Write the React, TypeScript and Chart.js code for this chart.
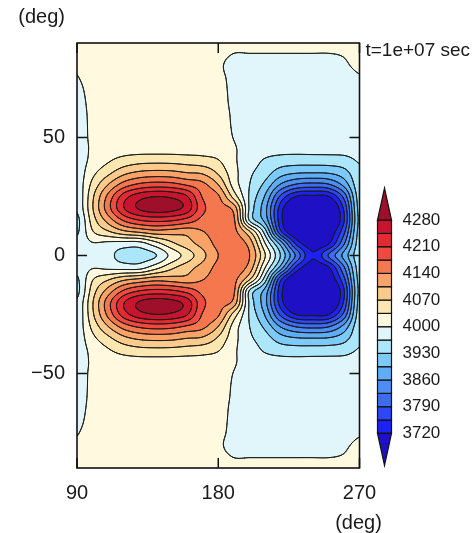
import React, { useEffect, useRef } from 'react';
import Chart from 'chart.js/auto';

// ---------------- data ----------------
const lonTicks = [90, 180, 270];
const latTicks = [-50, 0, 50];
const colorbarLabels = [3720, 3790, 3860, 3930, 4000, 4070, 4140, 4210, 4280];
const contourLevels = [3720, 3755, 3790, 3825, 3860, 3895, 3930, 3965, 4000, 4035, 4070, 4105, 4140, 4175, 4210, 4245, 4280];
const bandColors = [
  '#1e10c4', '#1c22f2', '#2c48f4', '#3c6cf2', '#4c8ef4', '#5eaef6', '#7ccafa', '#ace6fb', '#e0f6fb',
  '#fffadf', '#fde7b0', '#fccb8c', '#f9a366', '#f5774e', '#ef4a3e', '#e32a32', '#c9142e', '#a00f2a',
];
const timeLabel = 't=1e+07 sec';
const axisUnit = '(deg)';

// grid longitudes (columns) and northern latitudes (rows); field is symmetric about the equator
const gridLons = [90, 100, 110, 120, 130, 140, 150, 160, 170, 180, 190, 200, 210, 220, 230, 240, 250, 260, 270];
const gridLatsNorth = [90, 85, 80, 75, 70, 65, 60, 55, 50, 45, 40, 35, 30, 25, 20, 15, 10, 5, 0];

const lat90 = [4010, 4012, 4014, 4015, 4015, 4015, 4015, 4014, 4012, 4010, 4006, 4006, 4006, 4006, 4006, 4006, 4006, 4007, 4008];
const lat85 = [4006, 4012, 4015, 4015, 4015, 4015, 4015, 4015, 4014, 4007, 3999, 3999, 3999, 3999, 3999, 3999, 3999, 4001, 4006];
const lat80 = [4002, 4010, 4015, 4015, 4015, 4015, 4015, 4015, 4014, 4005, 3990, 3990, 3990, 3990, 3990, 3990, 3991, 3997, 4003];
const lat75 = [3999, 4009, 4015, 4015, 4015, 4015, 4015, 4015, 4014, 4008, 3992, 3988, 3988, 3988, 3988, 3988, 3989, 3992, 3998];
const lat70 = [3995, 4008, 4015, 4015, 4015, 4015, 4015, 4015, 4015, 4010, 3993, 3988, 3988, 3988, 3988, 3988, 3988, 3989, 3993];
const lat65 = [3992, 4007, 4015, 4015, 4015, 4015, 4015, 4015, 4015, 4011, 3994, 3988, 3988, 3988, 3988, 3988, 3988, 3988, 3990];
const lat60 = [3990, 4006, 4015, 4015, 4015, 4015, 4015, 4015, 4015, 4012, 3996, 3988, 3988, 3988, 3988, 3988, 3988, 3988, 3989];
const lat55 = [3988, 4006, 4015, 4016, 4016, 4016, 4016, 4016, 4015, 4013, 3997, 3988, 3988, 3988, 3988, 3988, 3988, 3988, 3988];
const lat50 = [3987, 4006, 4016, 4017, 4017, 4017, 4017, 4017, 4017, 4014, 3999, 3988, 3987, 3987, 3987, 3987, 3987, 3987, 3988];
const lat45 = [3986, 4005, 4018, 4021, 4022, 4022, 4022, 4021, 4022, 4018, 4003, 3987, 3980, 3977, 3976, 3977, 3977, 3978, 3982];
const lat40 = [3983, 4010, 4032, 4050, 4059, 4061, 4060, 4056, 4050, 4038, 4005, 3982, 3960, 3948, 3945, 3945, 3946, 3950, 3968];
const lat35 = [3980, 4026, 4062, 4096, 4113, 4118, 4116, 4106, 4100, 4065, 4012, 3972, 3945, 3910, 3897, 3895, 3897, 3915, 3958];
const lat30 = [3978, 4046, 4106, 4157, 4183, 4192, 4188, 4171, 4150, 4105, 4020, 3965, 3920, 3855, 3820, 3812, 3820, 3870, 3955];
const lat25 = [3973, 4064, 4151, 4228, 4266, 4279, 4274, 4248, 4172, 4145, 4055, 3960, 3890, 3780, 3718, 3712, 3718, 3800, 3950];
const lat20 = [3970, 4068, 4162, 4244, 4285, 4300, 4293, 4266, 4184, 4155, 4125, 3958, 3870, 3735, 3655, 3650, 3660, 3760, 3945];
const lat15 = [3955, 4053, 4121, 4181, 4211, 4221, 4216, 4197, 4165, 4158, 4145, 3960, 3880, 3730, 3650, 3635, 3650, 3750, 3940];
const lat10 = [3960, 4032, 4065, 4095, 4110, 4125, 4122, 4118, 4138, 4155, 4150, 4075, 3945, 3760, 3675, 3650, 3685, 3780, 3945];
const lat5 = [3978, 3997, 3990, 3984, 3985, 4020, 4060, 4090, 4118, 4150, 4160, 4125, 4000, 3880, 3745, 3695, 3715, 3820, 3950];
const lat0 = [3985, 3986, 3972, 3955, 3953, 3963, 4010, 4050, 4095, 4140, 4163, 4140, 4035, 3925, 3815, 3725, 3790, 3870, 3955];

const northRows = [lat90, lat85, lat80, lat75, lat70, lat65, lat60, lat55, lat50, lat45, lat40, lat35, lat30, lat25, lat20, lat15, lat10, lat5, lat0];

// full table in ascending latitude (-90 .. 90), mirrored about the equator
const fieldRows: number[][] = [...northRows.slice(0, northRows.length - 1), ...northRows.slice().reverse()];
const fieldLats: number[] = [...gridLatsNorth.slice(0, -1).map((v) => -v), ...gridLatsNorth.slice().reverse()];

// ---------------- helpers ----------------
function catmull(p0: number, p1: number, p2: number, p3: number, t: number) {
  return p1 + 0.5 * t * (p2 - p0 + t * (2 * p0 - 5 * p1 + 4 * p2 - p3 + t * (3 * (p1 - p2) + p3 - p0)));
}

function sampleField(lon: number, lat: number) {
  const nx = gridLons.length;
  const ny = fieldLats.length;
  const fx = (lon - gridLons[0]) / (gridLons[1] - gridLons[0]);
  const fy = (lat - fieldLats[0]) / (fieldLats[1] - fieldLats[0]);
  let ix = Math.floor(fx);
  let iy = Math.floor(fy);
  ix = Math.max(0, Math.min(nx - 2, ix));
  iy = Math.max(0, Math.min(ny - 2, iy));
  const tx = Math.max(0, Math.min(1, fx - ix));
  const ty = Math.max(0, Math.min(1, fy - iy));
  const g = (r: number, c: number) =>
    fieldRows[Math.max(0, Math.min(ny - 1, r))][Math.max(0, Math.min(nx - 1, c))];
  const col: number[] = [];
  for (let k = -1; k <= 2; k++) {
    const r = iy + k;
    col.push(catmull(g(r, ix - 1), g(r, ix), g(r, ix + 1), g(r, ix + 2), tx));
  }
  return catmull(col[0], col[1], col[2], col[3], ty);
}

function bandIndex(v: number) {
  let k = 0;
  while (k < contourLevels.length && v >= contourLevels[k]) k++;
  return k;
}

function hexToRgb(h: string) {
  const n = parseInt(h.slice(1), 16);
  return [(n >> 16) & 255, (n >> 8) & 255, n & 255];
}

const FONT = '"Liberation Sans", Arial, Helvetica, sans-serif';

// ---------------- plugins ----------------
const fieldPlugin = {
  id: 'fieldPlugin',
  beforeDatasetsDraw(chart: any) {
    const { ctx, chartArea: ca } = chart;
    const xs = chart.scales.x;
    const ys = chart.scales.y;
    const L = Math.round(ca.left);
    const T = Math.round(ca.top);
    const W = Math.round(ca.right) - L;
    const H = Math.round(ca.bottom) - T;
    const NW = W + 1;
    const F = new Float64Array(NW * (H + 1));
    const lonAt: number[] = [];
    for (let i = 0; i <= W; i++) lonAt.push(xs.getValueForPixel(L + i));
    for (let j = 0; j <= H; j++) {
      const lat = ys.getValueForPixel(T + j);
      for (let i = 0; i <= W; i++) F[j * NW + i] = sampleField(lonAt[i], lat);
    }
    const rgb = bandColors.map(hexToRgb);
    const off = document.createElement('canvas');
    off.width = W;
    off.height = H;
    const octx = off.getContext('2d')!;
    const img = octx.createImageData(W, H);
    for (let j = 0; j < H; j++) {
      for (let i = 0; i < W; i++) {
        const v = (F[j * NW + i] + F[j * NW + i + 1] + F[(j + 1) * NW + i] + F[(j + 1) * NW + i + 1]) / 4;
        const c = rgb[bandIndex(v)];
        const p = (j * W + i) * 4;
        img.data[p] = c[0];
        img.data[p + 1] = c[1];
        img.data[p + 2] = c[2];
        img.data[p + 3] = 255;
      }
    }
    octx.putImageData(img, 0, 0);
    ctx.save();
    ctx.drawImage(off, L, T);
    ctx.beginPath();
    ctx.rect(L, T, W, H);
    ctx.clip();
    ctx.strokeStyle = '#1b1b1b';
    ctx.lineWidth = 1;
    ctx.lineCap = 'round';
    ctx.lineJoin = 'round';
    for (const lv of contourLevels) {
      ctx.beginPath();
      for (let j = 0; j < H; j++) {
        for (let i = 0; i < W; i++) {
          const a = F[j * NW + i];
          const b = F[j * NW + i + 1];
          const c = F[(j + 1) * NW + i + 1];
          const d = F[(j + 1) * NW + i];
          const idx = (a > lv ? 8 : 0) | (b > lv ? 4 : 0) | (c > lv ? 2 : 0) | (d > lv ? 1 : 0);
          if (idx === 0 || idx === 15) continue;
          const top = () => [i + (lv - a) / (b - a), j];
          const right = () => [i + 1, j + (lv - b) / (c - b)];
          const bottom = () => [i + (lv - d) / (c - d), j + 1];
          const left = () => [i, j + (lv - a) / (d - a)];
          const seg = (p: number[], q: number[]) => {
            ctx.moveTo(L + p[0], T + p[1]);
            ctx.lineTo(L + q[0], T + q[1]);
          };
          const center = (a + b + c + d) / 4 > lv;
          switch (idx) {
            case 1: case 14: seg(left(), bottom()); break;
            case 2: case 13: seg(bottom(), right()); break;
            case 3: case 12: seg(left(), right()); break;
            case 4: case 11: seg(top(), right()); break;
            case 6: case 9: seg(top(), bottom()); break;
            case 7: case 8: seg(top(), left()); break;
            case 5:
              if (center) { seg(top(), left()); seg(right(), bottom()); }
              else { seg(top(), right()); seg(left(), bottom()); }
              break;
            case 10:
              if (center) { seg(top(), right()); seg(left(), bottom()); }
              else { seg(top(), left()); seg(right(), bottom()); }
              break;
          }
        }
      }
      ctx.stroke();
    }
    ctx.restore();
  },
};

const decorPlugin = {
  id: 'decorPlugin',
  afterDraw(chart: any) {
    const { ctx, chartArea: ca } = chart;
    const xs = chart.scales.x;
    const ys = chart.scales.y;
    const cb = chart.scales.cb;
    ctx.save();
    // colour bar
    const x0 = ca.right + 18;
    const x1 = ca.right + 32;
    const xm = (x0 + x1) / 2;
    const tri = 32;
    ctx.strokeStyle = '#111';
    ctx.lineWidth = 1.2;
    for (let k = 1; k < contourLevels.length; k++) {
      const yTop = cb.getPixelForValue(contourLevels[k]);
      const yBot = cb.getPixelForValue(contourLevels[k - 1]);
      ctx.fillStyle = bandColors[k];
      ctx.fillRect(x0, yTop, x1 - x0, yBot - yTop);
      ctx.strokeRect(x0, yTop, x1 - x0, yBot - yTop);
    }
    const yHi = cb.getPixelForValue(contourLevels[contourLevels.length - 1]);
    ctx.beginPath();
    ctx.moveTo(x0, yHi);
    ctx.lineTo(x1, yHi);
    ctx.lineTo(xm, yHi - tri);
    ctx.closePath();
    ctx.fillStyle = bandColors[bandColors.length - 1];
    ctx.fill();
    ctx.stroke();
    const yLo = cb.getPixelForValue(contourLevels[0]);
    ctx.beginPath();
    ctx.moveTo(x0, yLo);
    ctx.lineTo(x1, yLo);
    ctx.lineTo(xm, yLo + tri);
    ctx.closePath();
    ctx.fillStyle = bandColors[0];
    ctx.fill();
    ctx.stroke();

    // frame
    ctx.strokeStyle = '#111';
    ctx.lineWidth = 1.6;
    ctx.strokeRect(ca.left, ca.top, ca.right - ca.left, ca.bottom - ca.top);
    // inward ticks
    ctx.lineWidth = 1.5;
    ctx.beginPath();
    for (const v of lonTicks) {
      const px = xs.getPixelForValue(v);
      ctx.moveTo(px, ca.top);
      ctx.lineTo(px, ca.top + 10);
      ctx.moveTo(px, ca.bottom);
      ctx.lineTo(px, ca.bottom - 10);
    }
    for (const v of latTicks) {
      const py = ys.getPixelForValue(v);
      ctx.moveTo(ca.left, py);
      ctx.lineTo(ca.left + 10, py);
      ctx.moveTo(ca.right, py);
      ctx.lineTo(ca.right - 10, py);
    }
    ctx.stroke();

    // texts
    ctx.fillStyle = '#1a1a1a';
    ctx.textBaseline = 'middle';
    ctx.font = `20px ${FONT}`;
    ctx.textAlign = 'right';
    ctx.fillText(axisUnit, ca.left - 12, 17);
    ctx.textAlign = 'center';
    ctx.fillText(axisUnit, ca.right - 1, 523);
    ctx.font = `19px ${FONT}`;
    ctx.textAlign = 'left';
    ctx.fillText(timeLabel, ca.right + 6, 51);
    ctx.restore();
  },
};

const fmt = (v: number) => (v < 0 ? '\u2212' + Math.abs(v) : String(v));

const noPadV = (s: any) => { s.paddingTop = 0; s.paddingBottom = 0; };

export default function App() {
  const ref = useRef<HTMLCanvasElement>(null);
  useEffect(() => {
    const canvas = ref.current!;
    const chart = new Chart(canvas, {
      type: 'scatter',
      data: { datasets: [] },
      options: {
        responsive: false,
        animation: false,
        devicePixelRatio: 1,
        events: [],
        layout: { padding: { top: 43, left: 0, right: 0, bottom: 0 } },
        plugins: { legend: { display: false }, tooltip: { enabled: false }, title: { display: false } },
        scales: {
          x: {
            type: 'linear',
            position: 'bottom',
            min: 90,
            max: 270,
            afterBuildTicks: (s: any) => { s.ticks = lonTicks.map((v) => ({ value: v })); },
            afterFit: (s: any) => { s.height = 65; s.paddingLeft = 0; s.paddingRight = 0; },
            grid: { display: false, drawTicks: false },
            border: { display: false },
            ticks: {
              autoSkip: false,
              maxRotation: 0,
              padding: 13,
              color: '#1a1a1a',
              font: { family: FONT, size: 20 },
              callback: (v: any) => fmt(Number(v)),
            },
          },
          y: {
            type: 'linear',
            position: 'left',
            min: -90,
            max: 90,
            afterBuildTicks: (s: any) => { s.ticks = latTicks.map((v) => ({ value: v })); },
            afterFit: (s: any) => { s.width = 77; noPadV(s); },
            grid: { display: false, drawTicks: false },
            border: { display: false },
            ticks: {
              autoSkip: false,
              padding: 12,
              color: '#1a1a1a',
              font: { family: FONT, size: 20 },
              callback: (v: any) => fmt(Number(v)),
            },
          },
          cb: {
            type: 'linear',
            axis: 'y',
            position: 'right',
            min: 3629,
            max: 4745,
            afterBuildTicks: (s: any) => { s.ticks = colorbarLabels.map((v) => ({ value: v })); },
            afterFit: (s: any) => { s.width = 114.5; noPadV(s); },
            grid: { display: false, drawTicks: false },
            border: { display: false },
            ticks: {
              autoSkip: false,
              padding: 43,
              color: '#1a1a1a',
              font: { family: FONT, size: 17 },
              callback: (v: any) => String(v),
            },
          },
        },
      } as any,
      plugins: [fieldPlugin, decorPlugin],
    } as any);
    return () => chart.destroy();
  }, []);
  return (
    <div style={{ position: 'absolute', left: 0, top: 0, width: 474, height: 533, background: '#fff' }}>
      <canvas ref={ref} width={474} height={533} style={{ display: 'block', width: 474, height: 533 }} />
    </div>
  );
}
